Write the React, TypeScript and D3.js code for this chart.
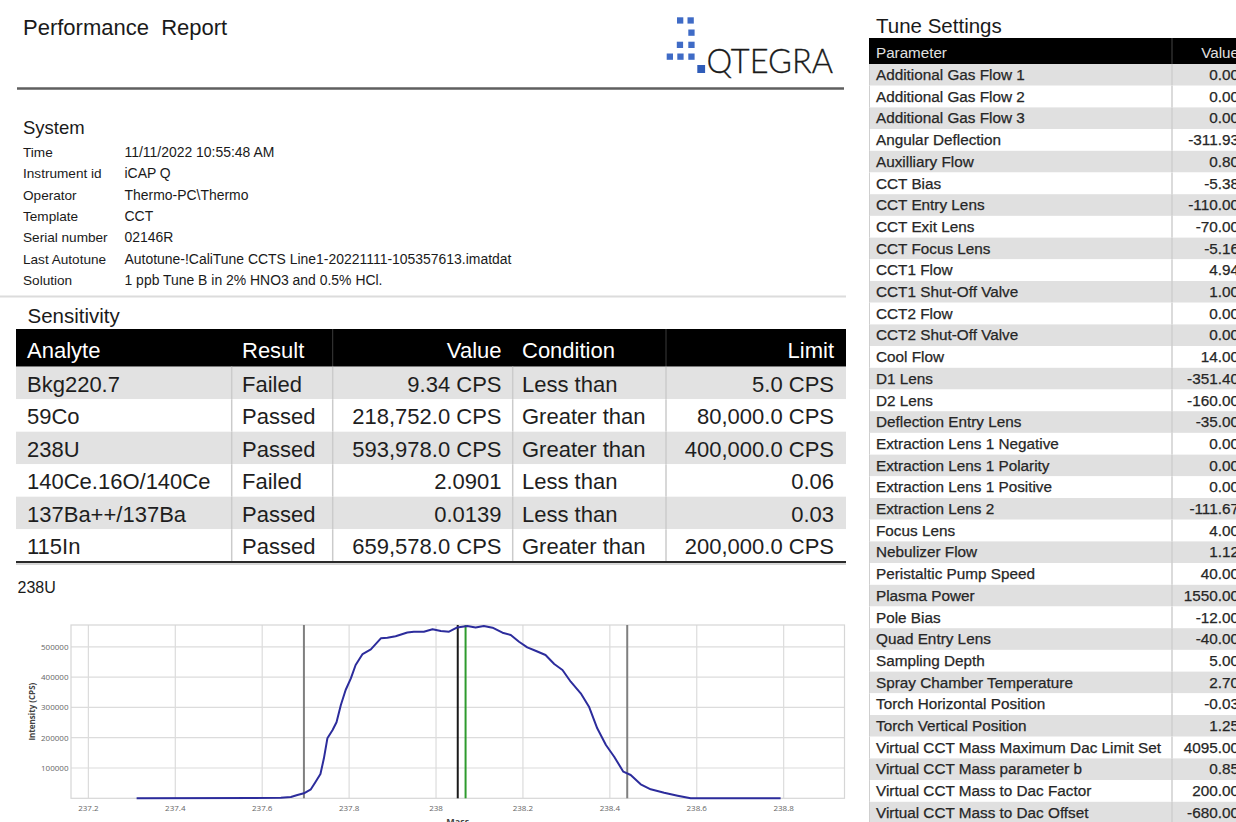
import React from "react";
import * as d3 from "d3";

// Performance report: system info, sensitivity table, tune settings and 238U scan

const systemLabels = ["Time", "Instrument id", "Operator", "Template", "Serial number", "Last Autotune", "Solution"];
const systemValues = [
  "11/11/2022 10:55:48 AM",
  "iCAP Q",
  "Thermo-PC\\Thermo",
  "CCT",
  "02146R",
  "Autotune-!CaliTune CCTS Line1-20221111-105357613.imatdat",
  "1 ppb Tune B in 2% HNO3 and 0.5% HCl.",
];

const sensHeaders = ["Analyte", "Result", "Value", "Condition", "Limit"];
const analytes = ["Bkg220.7", "59Co", "238U", "140Ce.16O/140Ce", "137Ba++/137Ba", "115In"];
const results = ["Failed", "Passed", "Passed", "Failed", "Passed", "Passed"];
const sensValues = ["9.34 CPS", "218,752.0 CPS", "593,978.0 CPS", "2.0901", "0.0139", "659,578.0 CPS"];
const conditions = ["Less than", "Greater than", "Greater than", "Less than", "Less than", "Greater than"];
const limits = ["5.0 CPS", "80,000.0 CPS", "400,000.0 CPS", "0.06", "0.03", "200,000.0 CPS"];

const tuneParams = [
  "Additional Gas Flow 1", "Additional Gas Flow 2", "Additional Gas Flow 3", "Angular Deflection",
  "Auxilliary Flow", "CCT Bias", "CCT Entry Lens", "CCT Exit Lens", "CCT Focus Lens", "CCT1 Flow",
  "CCT1 Shut-Off Valve", "CCT2 Flow", "CCT2 Shut-Off Valve", "Cool Flow", "D1 Lens", "D2 Lens",
  "Deflection Entry Lens", "Extraction Lens 1 Negative", "Extraction Lens 1 Polarity",
  "Extraction Lens 1 Positive", "Extraction Lens 2", "Focus Lens", "Nebulizer Flow",
  "Peristaltic Pump Speed", "Plasma Power", "Pole Bias", "Quad Entry Lens", "Sampling Depth",
  "Spray Chamber Temperature", "Torch Horizontal Position", "Torch Vertical Position",
  "Virtual CCT Mass Maximum Dac Limit Set", "Virtual CCT Mass parameter b",
  "Virtual CCT Mass to Dac Factor", "Virtual CCT Mass to Dac Offset",
];
const tuneValues = [
  "0.00", "0.00", "0.00", "-311.93", "0.80", "-5.38", "-110.00", "-70.00", "-5.16", "4.94",
  "1.00", "0.00", "0.00", "14.00", "-351.40", "-160.00", "-35.00", "0.00", "0.00", "0.00",
  "-111.67", "4.00", "1.12", "40.00", "1550.00", "-12.00", "-40.00", "5.00", "2.70", "-0.03",
  "1.25", "4095.00", "0.85", "200.00", "-680.00",
];

// 238U mass scan
const scanMass = [
  237.311, 237.643, 237.666, 237.681, 237.696, 237.712, 237.723, 237.734, 237.742, 237.75,
  237.762, 237.771, 237.781, 237.792, 237.804, 237.815, 237.831, 237.85, 237.873, 237.888,
  237.907, 237.934, 237.949, 237.972, 237.992, 238.011, 238.03, 238.049, 238.072, 238.091,
  238.11, 238.13, 238.153, 238.172, 238.191, 238.21, 238.229, 238.252, 238.272, 238.291,
  238.31, 238.333, 238.352, 238.371, 238.391, 238.41, 238.431, 238.448, 238.471, 238.494,
  238.525, 238.556, 238.586, 238.793,
];
const scanIntensity = [
  0, 1500, 4300, 10900, 16500, 29700, 54800, 80200, 132000, 198000,
  225400, 250800, 308000, 357400, 396000, 440000, 476200, 491700, 528000, 530000,
  535000, 547000, 550000, 550000, 557800, 552000, 550000, 564000, 568600, 564000,
  568600, 563000, 546500, 539000, 516800, 498300, 487100, 473000, 443200, 423400,
  384800, 346500, 302300, 231000, 176000, 137300, 87800, 77000, 46200, 29700,
  18500, 8600, 0, 0,
];
const windowMasses = [237.696, 238.44];
const nominalMass = 238.05;
const peakMass = 238.068;

const FONT = "'Liberation Sans', Arial, sans-serif";
const CHART_FONT = "'Open Sans', 'Noto Sans', sans-serif";

export default function App() {
  const x = d3.scaleLinear().domain([237.16, 238.94]).range([71, 844.5]);
  const y = d3.scaleLinear().domain([0, 572000]).range([798.3, 625]);
  const line = d3
    .line<number>()
    .x((_, i) => x(scanMass[i]))
    .y((d) => y(d));
  const xTicks = x.ticks(10);
  const yTicks = y.ticks(6).filter((t) => t > 0);

  const logoSquares = [
    [677, 17.3], [687.5, 17.3], [688.3, 29.5], [676.8, 41.7], [688.3, 41.7],
    [666.7, 53.5], [677.3, 53.5], [688.3, 53.5],
  ];

  // sensitivity table geometry
  const sTop = 329, sHead = 37.7, sRow = 32.5;
  const sepX = [231.7, 332.7, 512.7, 666];

  // tune table geometry
  const tTop = 38, tHead = 26, tRow = 21.7;

  return (
    <svg
      width={1236}
      height={822}
      style={{ position: "absolute", left: 0, top: 0, background: "#fff" }}
      fontFamily={FONT}
    >
      <rect width={1236} height={822} fill="#fff" />

      {/* Header */}
      <text x={23} y={35} fontSize={22} fill="#1a1a1a" style={{ whiteSpace: "pre" }}>
        {"Performance  Report"}
      </text>
      {logoSquares.map(([sx, sy], i) => (
        <rect key={i} x={sx} y={sy} width={6.3} height={6.3} fill="#3f6bc6" />
      ))}
      <rect x={697.3} y={65} width={7.8} height={8} fill="#2f5cb8" />
      <text x={706.5} y={73.3} fontSize={32.5} fontFamily="Lato, 'Open Sans', sans-serif" fontWeight={300} fill="#1a1a1a" stroke="#1a1a1a" strokeWidth={0.3}>
        QTEGRA
      </text>
      <line x1={17} x2={844} y1={88.5} y2={88.5} stroke="#5f5f5f" strokeWidth={2.4} />

      {/* System */}
      <text x={23} y={134} fontSize={18.5} fill="#1a1a1a">System</text>
      {systemLabels.map((l, i) => (
        <g key={l}>
          <text x={23} y={157 + i * 21.3} fontSize={13.6} fill="#1a1a1a">{l}</text>
          <text x={124.5} y={157 + i * 21.3} fontSize={13.95} fill="#1a1a1a">{systemValues[i]}</text>
        </g>
      ))}
      <line x1={0} x2={846} y1={296.5} y2={296.5} stroke="#dcdcdc" strokeWidth={2} />

      {/* Sensitivity */}
      <text x={27.5} y={323} fontSize={20.5} fill="#1a1a1a">Sensitivity</text>
      <rect x={16} y={sTop} width={830} height={sHead} fill="#000" />
      {[332.7, 666].map((sx) => (
        <line key={sx} x1={sx} x2={sx} y1={sTop} y2={sTop + sHead} stroke="#3a3a3a" strokeWidth={1} />
      ))}
      <text x={27} y={sTop + 29} fontSize={22} fill="#fff">{sensHeaders[0]}</text>
      <text x={242} y={sTop + 29} fontSize={22} fill="#fff">{sensHeaders[1]}</text>
      <text x={501.5} y={sTop + 29} fontSize={22} fill="#fff" textAnchor="end">{sensHeaders[2]}</text>
      <text x={522} y={sTop + 29} fontSize={22} fill="#fff">{sensHeaders[3]}</text>
      <text x={834} y={sTop + 29} fontSize={22} fill="#fff" textAnchor="end">{sensHeaders[4]}</text>
      {analytes.map((a, i) => {
        const top = sTop + sHead + i * sRow;
        return (
          <g key={a}>
            <rect x={16} y={top} width={830} height={sRow} fill={i % 2 === 0 ? "#e2e2e2" : "#fff"} />
            {sepX.map((sx) => (
              <line key={sx} x1={sx} x2={sx} y1={top} y2={top + sRow} stroke="#cbcbcb" strokeWidth={1.5} />
            ))}
            <text x={27} y={top + 25} fontSize={22} fill="#1e1e1e">{a}</text>
            <text x={242} y={top + 25} fontSize={22} fill="#1e1e1e">{results[i]}</text>
            <text x={501.5} y={top + 25} fontSize={22} fill="#1e1e1e" textAnchor="end">{sensValues[i]}</text>
            <text x={522} y={top + 25} fontSize={22} fill="#1e1e1e">{conditions[i]}</text>
            <text x={834} y={top + 25} fontSize={22} fill="#1e1e1e" textAnchor="end">{limits[i]}</text>
          </g>
        );
      })}
      <line x1={16} x2={846} y1={562} y2={562} stroke="#2a2a2a" strokeWidth={2} />
      <line x1={16} x2={846} y1={564} y2={564} stroke="#b0b0b0" strokeWidth={1} />

      {/* Tune settings */}
      <text x={876} y={33} fontSize={20.5} fill="#1a1a1a">Tune Settings</text>
      <rect x={869} y={tTop} width={370} height={tHead} fill="#000" />
      <line x1={1172} x2={1172} y1={tTop} y2={tTop + tHead} stroke="#444" strokeWidth={1} />
      <text x={876} y={tTop + 20} fontSize={15.2} fill="#e0e0e0">Parameter</text>
      <text x={1239} y={tTop + 20} fontSize={15.2} fill="#e0e0e0" textAnchor="end">Value</text>
      {tuneParams.map((p, i) => {
        const top = tTop + tHead + i * tRow;
        return (
          <g key={p} fill="#262626" stroke="#262626" strokeWidth={0.25}>
            <rect x={869} y={top} width={370} height={tRow} fill={i % 2 === 0 ? "#e0e0e0" : "#fff"} stroke="none" />
            <line x1={869.5} x2={869.5} y1={top} y2={top + tRow} stroke="#cfcfcf" strokeWidth={1} />
            <line x1={1172} x2={1172} y1={top} y2={top + tRow} stroke="#cfcfcf" strokeWidth={1.5} />
            <text x={876} y={top + 16} fontSize={15.3}>{p}</text>
            <text x={1239} y={top + 16} fontSize={15.3} textAnchor="end">{tuneValues[i]}</text>
          </g>
        );
      })}

      {/* 238U scan chart */}
      <text x={17.5} y={593} fontSize={16} fill="#1a1a1a">238U</text>
      <g fontFamily={CHART_FONT}>
        {xTicks.map((t) => (
          <line key={"gx" + t} x1={x(t)} x2={x(t)} y1={y.range()[1]} y2={y.range()[0]} stroke="#dcdcdc" strokeWidth={1.2} />
        ))}
        {yTicks.map((t) => (
          <line key={"gy" + t} x1={x.range()[0]} x2={x.range()[1]} y1={y(t)} y2={y(t)} stroke="#dcdcdc" strokeWidth={1.2} />
        ))}
        <rect
          x={x.range()[0]}
          y={y.range()[1]}
          width={x.range()[1] - x.range()[0]}
          height={y.range()[0] - y.range()[1]}
          fill="none"
          stroke="#d6d6d6"
          strokeWidth={1.2}
        />
        {xTicks.map((t) => (
          <text key={"tx" + t} x={x(t)} y={810.5} fontSize={8} fill="#666" textAnchor="middle">
            {String(+t.toFixed(1))}
          </text>
        ))}
        {yTicks.map((t) => (
          <text key={"ty" + t} x={68.5} y={y(t) + 3} fontSize={8} fill="#666" textAnchor="end">
            {String(t)}
          </text>
        ))}
        <text
          transform={`translate(35, ${(y.range()[0] + y.range()[1]) / 2}) rotate(-90)`}
          fontSize={8}
          fontWeight={700}
          fill="#444"
          textAnchor="middle"
        >
          Intensity (CPS)
        </text>
        <text x={(x.range()[0] + x.range()[1]) / 2} y={825} fontSize={9} fontWeight={700} fill="#444" textAnchor="middle">
          Mass
        </text>

        {windowMasses.map((m) => (
          <line key={"w" + m} x1={x(m)} x2={x(m)} y1={y.range()[1]} y2={y.range()[0]} stroke="#7f7f7f" strokeWidth={2} />
        ))}
        <line x1={x(nominalMass)} x2={x(nominalMass)} y1={y.range()[1]} y2={y.range()[0]} stroke="#1a1a1a" strokeWidth={2} />
        <line x1={x(peakMass)} x2={x(peakMass)} y1={y.range()[1]} y2={y.range()[0]} stroke="#2e9b2e" strokeWidth={2} />

        <path d={line(scanIntensity) || ""} fill="none" stroke="#2c2c9c" strokeWidth={2} strokeLinejoin="round" />
      </g>
    </svg>
  );
}
